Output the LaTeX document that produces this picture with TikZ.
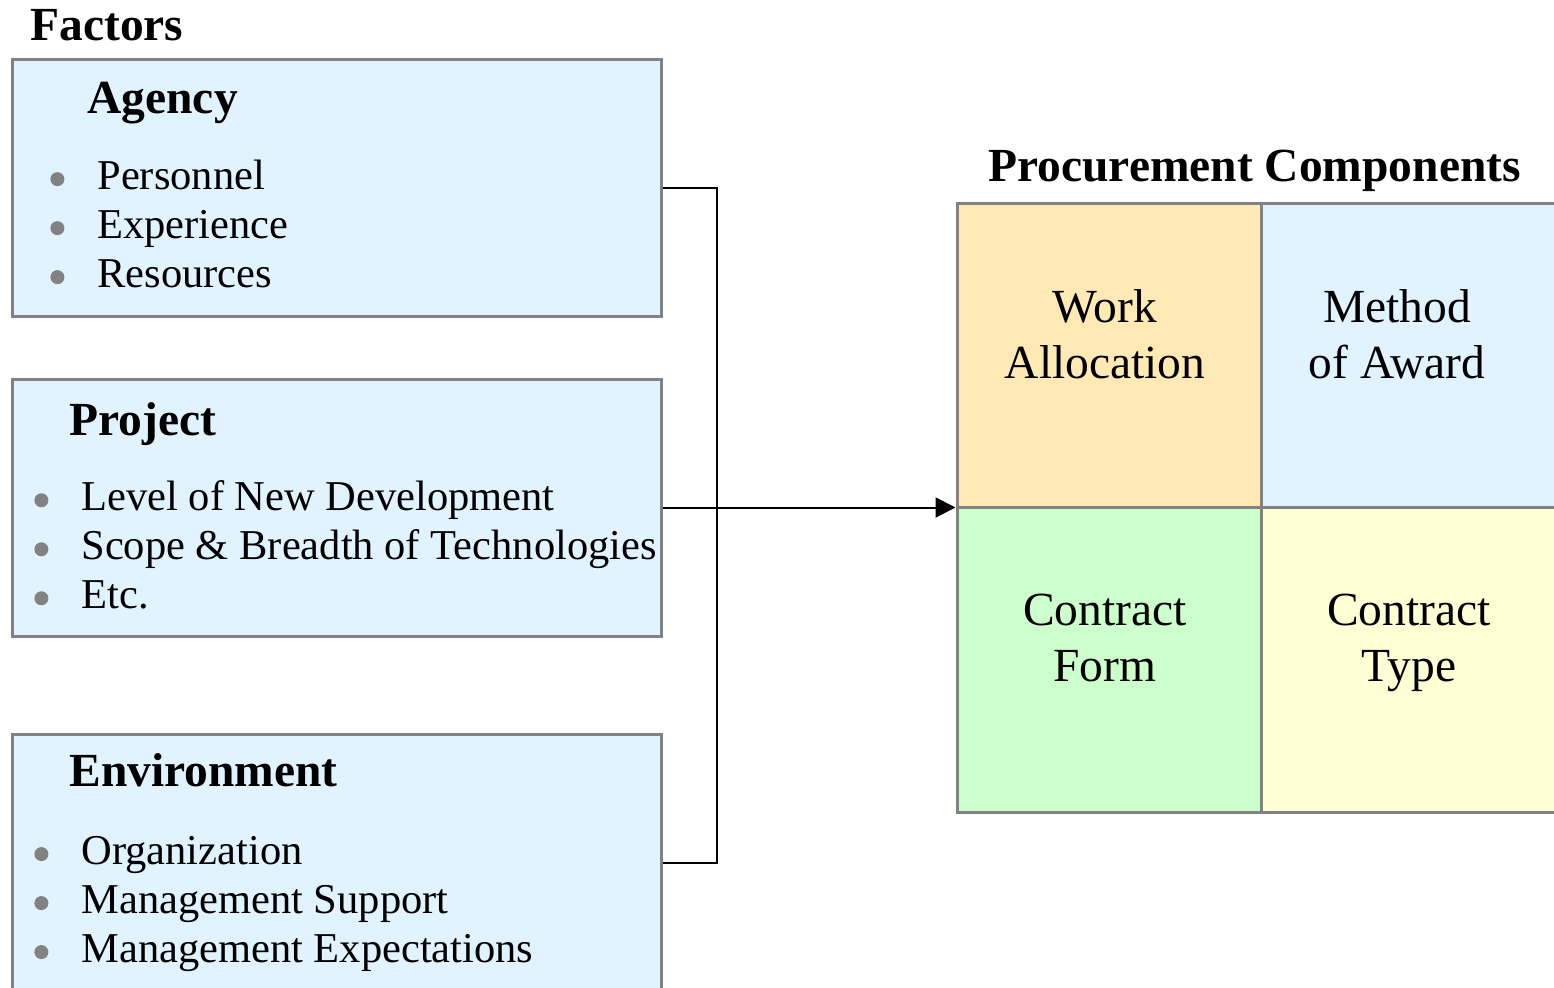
\documentclass[tikz,border=0pt]{standalone}
\usepackage{fontspec}
\setmainfont{Liberation Serif}
\usepackage{xcolor}
\usetikzlibrary{positioning,arrows.meta}

\definecolor{boxblue}{HTML}{E1F3FE}
\definecolor{framegray}{HTML}{828282}
\definecolor{workorange}{HTML}{FFEAB6}
\definecolor{formgreen}{HTML}{CCFFCC}
\definecolor{typeyellow}{HTML}{FFFFD5}

% gray round list bullet
\newcommand{\listdot}{\makebox[25.25pt][l]{\hspace*{1.75pt}\tikz[baseline=0pt]\fill[framegray] (0pt,5.2pt) circle (3.5pt);}}

\begin{document}
\begin{tikzpicture}[
  x=0.5pt, y=-0.5pt,
  factorbox/.style={draw=framegray, line width=1.5pt, fill=boxblue, minimum width=324.5pt, minimum height=128.5pt, inner sep=0pt},
  cell/.style={draw=framegray, line width=1.5pt, minimum width=152pt, minimum height=152.5pt, inner sep=0pt},
  heading/.style={font=\fontsize{23.75}{28}\selectfont\bfseries, inner sep=0pt, anchor=base west},
  items/.style={font=\fontsize{21.25}{24.5}\selectfont, align=left, inner sep=0pt, anchor=west},
  celltext/.style={font=\fontsize{23.75}{28}\selectfont, align=center, inner sep=0pt},
  arr/.style={-{Triangle[length=10pt, width=10pt]}, line width=1pt},
  conn/.style={line width=1pt}
]
\clip[use as bounding box] (0,0) rectangle (1554,987);

% left column: the three factor groups
\node[heading] (factors) at (30,40) {Factors};
\node[factorbox] (agency) at (336.5,187.5) {};
\node[factorbox] (project) at (336.5,507.5) {};
\node[factorbox] (environ) at (336.5,862.5) {};

\node[heading] (agencyhd) at (87,113) {Agency};
\node[items] (agencyls) at (46.5,224) {\listdot Personnel\\ \listdot Experience\\ \listdot Resources};

\node[heading] (projecthd) at (69,435) {Project};
\node[items] (projectls) at (30.5,545) {\listdot Level of New Development\\ \listdot Scope \& Breadth of Technologies\\ \listdot Etc.};

\node[heading] (environhd) at (69,786) {Environment};
\node[items] (environls) at (30.5,904) {\listdot Organization\\ \listdot Management Support\\ \listdot Management Expectations};

% right column: 2x2 grid of components
\node[heading] (comphd) at (988,181) {Procurement Components};
\node[cell, fill=workorange] (work) at (1109,355.5) {};
\node[cell, fill=boxblue] (award) at (1413,355.5) {};
\node[cell, fill=formgreen] (form) at (1109,659.5) {};
\node[cell, fill=typeyellow] (type) at (1413,659.5) {};

\node[celltext] (worktx) at (1105,334) {Work\\Allocation};
\node[celltext] (awardtx) at (1397,334) {Method\\of Award};
\node[celltext] (formtx) at (1105,638) {Contract\\Form};
\node[celltext] (typetx) at (1409,643) {Contract\\Type};

% connectors
\coordinate (bus) at (717,507.5);
\draw[conn] (agency.east) -| (bus) |- (environ.east);
\draw[arr] (project.east) -- (project.east -| work.west);
\end{tikzpicture}
\end{document}
